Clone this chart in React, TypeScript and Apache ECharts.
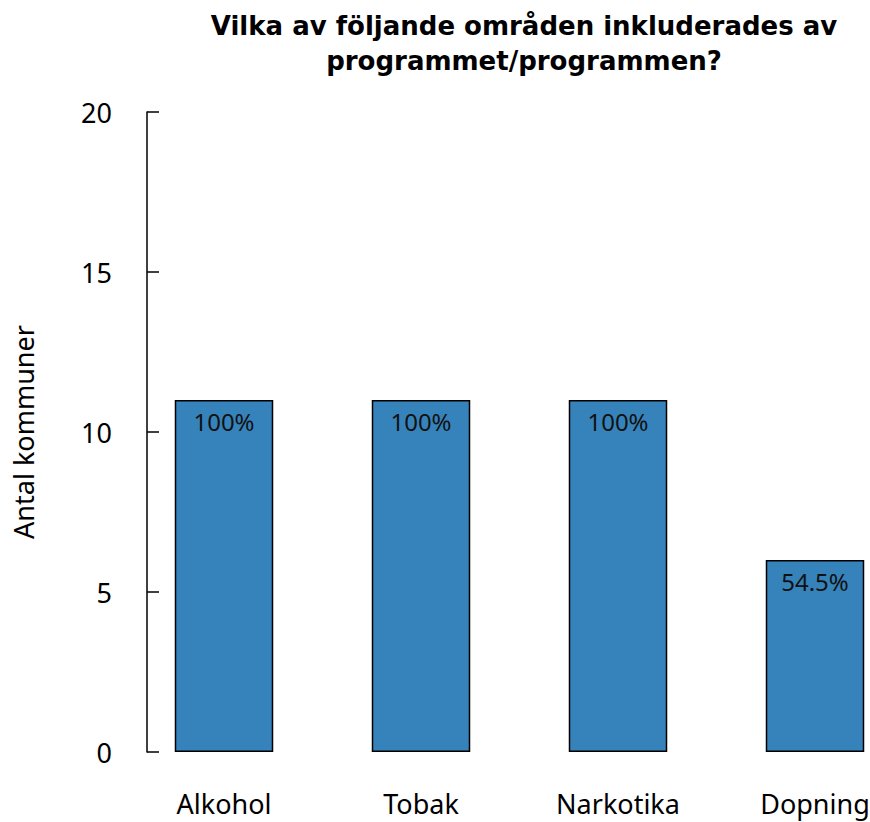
import React, { useEffect, useRef } from "react";
import * as echarts from "echarts";

const title = "Vilka av följande områden inkluderades av\nprogrammet/programmen?";
const categories = ["Alkohol", "Tobak", "Narkotika", "Dopning"];
const counts = [11, 11, 11, 6];
const percentLabels = ["100%", "100%", "100%", "54.5%"];
const yAxisName = "Antal kommuner";
const yMin = 0;
const yMax = 20;
const yInterval = 5;

export default function App() {
  const ref = useRef<HTMLDivElement>(null);
  useEffect(() => {
    if (!ref.current) return;
    const chart = echarts.init(ref.current, null, { renderer: "svg" });
    const font = "Noto Sans";
    chart.setOption({
      animation: false,
      backgroundColor: "#ffffff",
      title: {
        text: title,
        left: 519,
        top: 3,
        textAlign: "center",
        textStyle: {
          fontFamily: "DejaVu Sans",
          fontWeight: "bold",
          fontSize: 26,
          lineHeight: 35,
          color: "#000000",
        },
      },
      grid: {
        left: 125.5,
        top: 112,
        width: 788,
        height: 640,
        containLabel: false,
        outerBoundsMode: "none",
      },
      xAxis: {
        type: "category",
        data: categories,
        axisLine: { show: false },
        axisTick: { show: false },
        axisLabel: { margin: 38, fontFamily: font, fontSize: 27, color: "#000000" },
      },
      yAxis: {
        type: "value",
        min: yMin,
        max: yMax,
        interval: yInterval,
        offset: -21.5,
        name: yAxisName,
        nameLocation: "middle",
        nameGap: 110,
        nameTextStyle: { fontFamily: font, fontSize: 27, color: "#000000" },
        axisLine: { show: true, lineStyle: { color: "#000000", width: 1.5 } },
        axisTick: { show: true, inside: true, length: 12, lineStyle: { color: "#000000", width: 1.5 } },
        splitLine: { show: false },
        axisLabel: { margin: 35, fontFamily: font, fontSize: 27, color: "#000000" },
      },
      series: [
        {
          type: "bar",
          data: counts.map((v, i) => ({ value: v, label: { formatter: percentLabels[i] } })),
          barWidth: "50%",
          itemStyle: { color: "#3683BB", borderColor: "#000000", borderWidth: 1.5 },
          label: {
            show: true,
            position: "insideTop",
            distance: 9,
            fontFamily: font,
            fontSize: 24,
            color: "#111111",
          },
        },
      ],
    });
    return () => chart.dispose();
  }, []);
  return (
    <div
      ref={ref}
      style={{ position: "absolute", left: 0, top: 0, width: 870, height: 822 }}
    />
  );
}
